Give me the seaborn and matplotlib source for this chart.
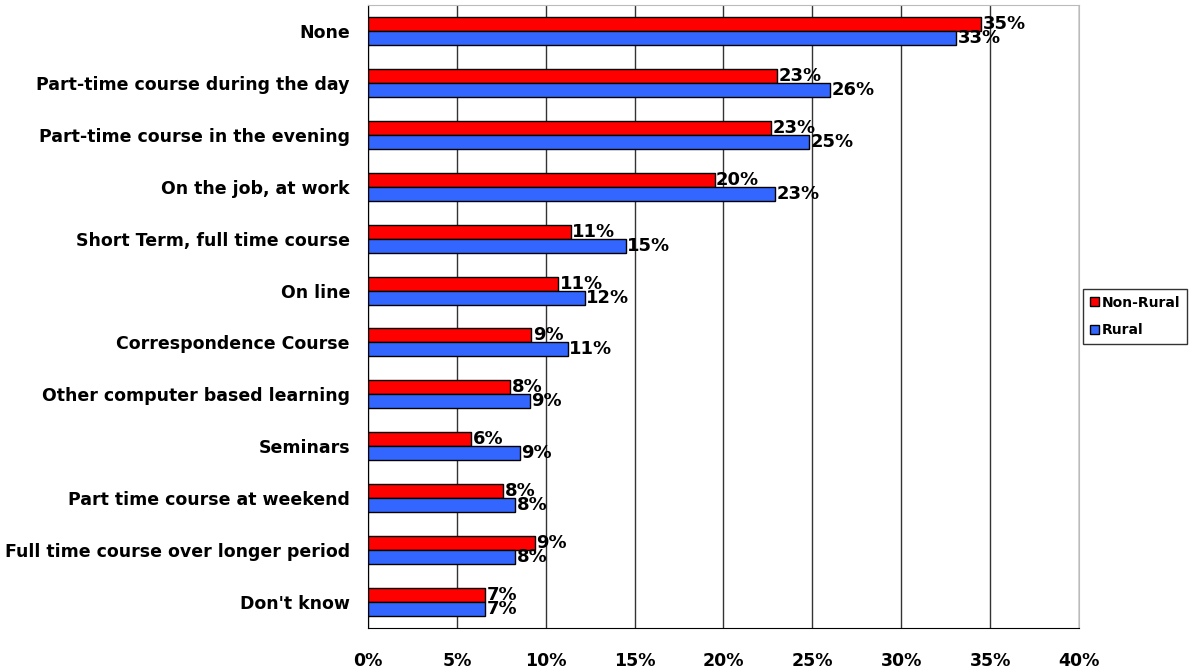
import pandas as pd
import matplotlib.pyplot as plt
import seaborn as sns
import numpy as np

# Données
categories = ["None", "Part-time course during the day", "Part-time course in the evening",
              "On the job, at work", "Short Term, full time course", "On line",
              "Correspondence Course", "Other computer based learning", "Seminars",
              "Part time course at weekend", "Full time course over longer period", "Don't know"]
non_rural = [34.5, 23.0, 22.7, 19.5, 11.4, 10.7, 9.2, 8.0, 5.8, 7.6, 9.4, 6.6]
rural = [33.1, 26.0, 24.8, 22.9, 14.5, 12.2, 11.25, 9.1, 8.55, 8.3, 8.3, 6.6]
non_rural_labels = ["35%", "23%", "23%", "20%", "11%", "11%", "9%", "8%", "6%", "8%", "9%", "7%"]
rural_labels = ["33%", "26%", "25%", "23%", "15%", "12%", "11%", "9%", "9%", "8%", "8%", "7%"]
series = ["Non-Rural", "Rural"]
x_ticks = [0, 5, 10, 15, 20, 25, 30, 35, 40]

df = pd.DataFrame({
    "categorie": categories * 2,
    "valeur": non_rural + rural,
    "serie": [series[0]] * len(categories) + [series[1]] * len(categories),
})

sns.set_style("white")
plt.rcParams['font.family'] = ['DejaVu Sans']
plt.rcParams['text.color'] = 'black'
plt.rcParams['xtick.color'] = 'black'
plt.rcParams['ytick.color'] = 'black'

fig = plt.figure(figsize=(11.97, 6.72), dpi=100)
ax = fig.add_axes([0.3074, 0.0655, 0.5940, 0.9271])

sns.barplot(data=df, y="categorie", x="valeur", hue="serie", orient="h",
            palette={"Non-Rural": "#FF0000", "Rural": "#3366FF"}, saturation=1,
            width=0.54, edgecolor="black", linewidth=1, ax=ax, legend=True)

# Etiquettes de valeurs
for cont, labels in zip(ax.containers, [non_rural_labels, rural_labels]):
    ax.bar_label(cont, labels=labels, padding=1, fontsize=13, fontweight="bold",
                 family=["Liberation Sans Narrow", "DejaVu Sans"], color="black")

ax.set_xlim(0, 40)
ax.set_xticks(x_ticks)
ax.set_xticklabels([f"{t}%" for t in x_ticks], fontsize=12.5, fontweight="bold")
ax.set_ylim(len(categories) - 0.5, -0.5)
ax.set_yticks(range(len(categories)))
ax.set_yticklabels(categories, fontsize=12.5, fontweight="bold")
ax.tick_params(axis="y", length=0, pad=13)
ax.set_yticks(np.arange(-0.5, len(categories), 1), minor=True)
ax.tick_params(axis="y", which="minor", length=6, direction="out", color="black")
ax.tick_params(axis="x", length=6, direction="out", color="black", pad=11)
ax.set_xlabel("")
ax.set_ylabel("")

ax.grid(axis="x", color="#333333", linewidth=1)
ax.set_axisbelow(True)
for side in ["top", "right"]:
    ax.spines[side].set_color("#BBBBBB")
for side in ["left", "bottom"]:
    ax.spines[side].set_color("black")

leg = ax.legend(loc="center left", bbox_to_anchor=(1.006, 0.5), frameon=True,
                fancybox=False, edgecolor="black", handlelength=0.6, handleheight=0.6,
                handletextpad=0.25, borderpad=0.5, borderaxespad=0, labelspacing=1.0,
                prop={"weight": "bold", "size": 10})
leg.get_frame().set_linewidth(1)

fig.savefig("out.png", dpi=100)
